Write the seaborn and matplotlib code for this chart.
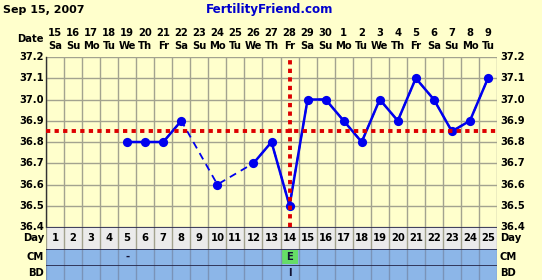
import numpy as np
import pandas as pd
import matplotlib
matplotlib.use("Agg")
import matplotlib.pyplot as plt
import seaborn as sns

sns.set_theme(style="white")
plt.rcParams['font.family'] = ['DejaVu Sans']

# ---- data ----
cycle_days = list(range(1, 26))
date_nums = ["15", "16", "17", "18", "19", "20", "21", "22", "23", "24", "25", "26", "27",
             "28", "29", "30", "1", "2", "3", "4", "5", "6", "7", "8", "9"]
weekdays = ["Sa", "Su", "Mo", "Tu", "We", "Th", "Fr", "Sa", "Su", "Mo", "Tu", "We", "Th",
            "Fr", "Sa", "Su", "Mo", "Tu", "We", "Th", "Fr", "Sa", "Su", "Mo", "Tu"]
temps = [None, None, None, None, 36.8, 36.8, 36.8, 36.9, None, 36.6, None, 36.7, 36.8,
         36.5, 37.0, 37.0, 36.9, 36.8, 37.0, 36.9, 37.1, 37.0, 36.85, 36.9, 37.1]
y_ticks = [36.4, 36.5, 36.6, 36.7, 36.8, 36.9, 37.0, 37.1, 37.2]
coverline = 36.85
ovulation_day = 14
cm_marks = {5: "-", 14: "E"}
bd_marks = {14: "I"}
title_left = "Sep 15, 2007"
title_site = "FertilityFriend.com"

# ---- style ----
W, H = 542, 280
BG = "#FFFFCC"
GRID = "#A3A38F"
BLUE = "#0000EE"
RED = "#DD0000"
ROWBLUE = "#8CB6E8"
DAYGRAY = "#EBEBEB"
FS = 7.2
FS_HEAD = 8.0

fig = plt.figure(figsize=(W / 100, H / 100), dpi=100)
fig.patch.set_facecolor(BG)

x0, x1 = 46, 497
def rect(top, bottom):
    return [x0 / W, 1 - bottom / H, (x1 - x0) / W, (bottom - top) / H]

ax = fig.add_axes(rect(57, 227))
ax.set_facecolor(BG)
ax.set_xlim(0.5, 25.5)
ax.set_ylim(36.4, 37.2)

for d in range(0, 26):
    ax.axvline(d + 0.5, color=GRID, lw=1, zorder=0)
for t in y_ticks:
    ax.axhline(t, color=GRID, lw=1, zorder=0)

df = pd.DataFrame({"day": cycle_days, "temp": temps}).dropna()
df["temp"] = df["temp"].astype(float)

# dashed connection across gaps
sns.lineplot(data=df, x="day", y="temp", ax=ax, color=BLUE, lw=1.3,
             linestyle=(0, (4, 3)), zorder=3, estimator=None, sort=True)
# solid segments for consecutive days
runs = []
cur = []
prev = None
for d in df["day"]:
    if prev is not None and d == prev + 1:
        cur.append(d)
    else:
        if cur:
            runs.append(cur)
        cur = [d]
    prev = d
if cur:
    runs.append(cur)
for r in runs:
    if len(r) > 1:
        sub = df[df["day"].isin(r)]
        sns.lineplot(data=sub, x="day", y="temp", ax=ax, color=BLUE, lw=1.8,
                     zorder=4, estimator=None, sort=True)
sns.scatterplot(data=df, x="day", y="temp", ax=ax, color=BLUE, s=44,
                edgecolor=BLUE, linewidth=0, zorder=5)

ax.axhline(coverline, color=RED, lw=2.8, linestyle=(0, (1.1, 1.1)), zorder=6)
ax.axvline(ovulation_day, color=RED, lw=2.8, linestyle=(0, (1.1, 1.1)), zorder=6)

ax.set_xticks([])
ax.set_yticks([])
ax.set_xlabel("")
ax.set_ylabel("")
for s in ax.spines.values():
    s.set_visible(False)
ax.spines["left"].set_visible(True)
ax.spines["left"].set_color("#333333")
ax.spines["left"].set_linewidth(1)

# y labels both sides
for t in y_ticks:
    yp = 1 - (57 + (37.2 - t) / 0.8 * 170) / H
    fig.text(44 / W, yp, f"{t:.1f}", ha="right", va="center", fontsize=FS,
             fontweight="bold", color="black")
    fig.text(500 / W, yp, f"{t:.1f}", ha="left", va="center", fontsize=FS,
             fontweight="bold", color="black")

# header
fig.text(3 / W, 1 - 10 / H, title_left, ha="left", va="center", fontsize=FS_HEAD,
         fontweight="bold", color="black")
fig.text(270 / W, 1 - 10 / H, title_site, ha="center", va="center", fontsize=FS_HEAD + 0.6,
         fontweight="bold", color="#0000CC")
fig.text(44 / W, 1 - 39 / H, "Date", ha="right", va="center", fontsize=FS,
         fontweight="bold", color="black")
for i, d in enumerate(cycle_days):
    xp = (x0 + (d - 0.5) * (x1 - x0) / 25) / W
    fig.text(xp, 1 - 33 / H, date_nums[i], ha="center", va="center", fontsize=FS,
             fontweight="bold", color="black")
    fig.text(xp, 1 - 46 / H, weekdays[i], ha="center", va="center", fontsize=FS,
             fontweight="bold", color="black")

# bottom rows
def row(top, bottom, color, label, marks, row_is_day=False):
    a = fig.add_axes(rect(top, bottom))
    a.set_xlim(0.5, 25.5)
    a.set_ylim(0, 1)
    a.set_facecolor(color)
    for d in range(0, 26):
        a.axvline(d + 0.5, color=GRID if row_is_day else "#7A93B8", lw=1)
    if row_is_day:
        for d in cycle_days:
            a.text(d, 0.5, str(d), ha="center", va="center", fontsize=FS,
                   fontweight="bold", color="black")
    else:
        for d, m in marks.items():
            if m == "E":
                a.axvspan(d - 0.45, d + 0.45, ymin=0.08, ymax=0.92, color="#66DD66", lw=0)
            a.text(d, 0.5, m, ha="center", va="center", fontsize=FS,
                   fontweight="bold", color="#111133")
    a.set_xticks([])
    a.set_yticks([])
    for s in a.spines.values():
        s.set_visible(False)
    a.axhline(1, color="#222244", lw=1.2)
    yc = 1 - ((top + bottom) / 2) / H
    fig.text(44 / W, yc, label, ha="right", va="center", fontsize=FS,
             fontweight="bold", color="black")
    fig.text(500 / W, yc, label, ha="left", va="center", fontsize=FS,
             fontweight="bold", color="black")
    return a

row(227, 249, DAYGRAY, "Day", {}, row_is_day=True)
row(249, 265, ROWBLUE, "CM", cm_marks)
row(265, 280, ROWBLUE, "BD", bd_marks)

fig.savefig("out.png", dpi=100, facecolor=BG)
